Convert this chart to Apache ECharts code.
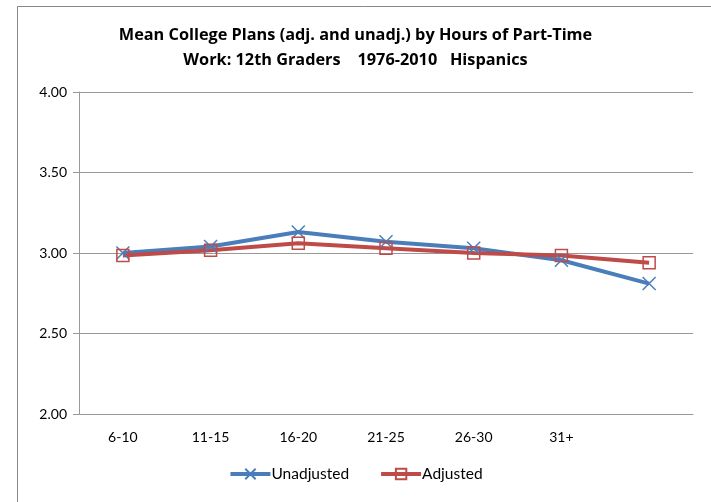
<!DOCTYPE html>
<html><head><meta charset="utf-8">
<script src="https://cdn.jsdelivr.net/npm/echarts@6/dist/echarts.min.js"></script>
<style>html,body{margin:0;padding:0;background:#fff}#c{width:711px;height:502px}</style>
</head><body><div id="c"></div>
<script>
const categories = ['6-10', '11-15', '16-20', '21-25', '26-30', '31+', ''];
const unadjusted = [3.00, 3.04, 3.13, 3.07, 3.03, 2.955, 2.81];
const adjusted = [2.985, 3.017, 3.06, 3.03, 3.00, 2.985, 2.94];
const yTicks = {min: 2, max: 4, interval: 0.5};
const titleText = 'Mean College Plans (adj. and unadj.) by Hours of Part-Time\nWork: 12th Graders    1976-2010   Hispanics';

const chart = echarts.init(document.getElementById('c'), null, {renderer: 'canvas'});
const F = 'Lato, "Open Sans", sans-serif';
const TF = '"Open Sans", sans-serif';
chart.setOption({
  animation: false,
  graphic: [{type: 'rect', shape: {x: 17.5, y: 6.5, width: 720, height: 520}, style: {fill: 'none', stroke: '#888', lineWidth: 1}, silent: true}],
  title: {text: titleText, left: 'center', top: 18, textStyle: {fontFamily: TF, fontWeight: 'bold', fontSize: 16.3, color: '#000', lineHeight: 25}},
  grid: {left: 79, right: 18, top: 92, bottom: 88},
  legend: {bottom: 15, left: 'center', itemWidth: 40, itemHeight: 13, itemGap: 30,
    lineStyle: {width: 4},
    textStyle: {fontFamily: F, fontSize: 15.5, color: '#000', padding: [0, 0, 0, -4]},
    data: ['Unadjusted', 'Adjusted']},
  xAxis: {type: 'category', data: categories, boundaryGap: true,
    axisLine: {lineStyle: {color: '#999', width: 1}},
    axisTick: {length: 6, lineStyle: {color: '#999'}},
    axisLabel: {fontFamily: F, fontSize: 14, color: '#000', margin: 16}},
  yAxis: {type: 'value', min: yTicks.min, max: yTicks.max, interval: yTicks.interval,
    axisLine: {show: true, lineStyle: {color: '#999'}},
    axisTick: {show: true, length: 6, lineStyle: {color: '#999'}},
    splitLine: {lineStyle: {color: '#999', width: 1}},
    axisLabel: {fontFamily: F, fontSize: 14, color: '#000', margin: 12, formatter: v => v.toFixed(2)}},
  series: [
    {name: 'Unadjusted', type: 'line', data: unadjusted, color: '#4a7ebb',
      lineStyle: {width: 4, color: '#4a7ebb'},
      symbol: 'path://M0,0 L10,10 M10,0 L0,10', symbolSize: 13,
      itemStyle: {color: 'none', borderColor: '#4a7ebb', borderWidth: 1.5}},
    {name: 'Adjusted', type: 'line', data: adjusted, color: '#be4b48',
      lineStyle: {width: 4, color: '#be4b48'},
      symbol: 'rect', symbolSize: 12,
      itemStyle: {color: 'rgba(255,255,255,0)', borderColor: '#be4b48', borderWidth: 1.5}}
  ]
});
</script></body></html>
